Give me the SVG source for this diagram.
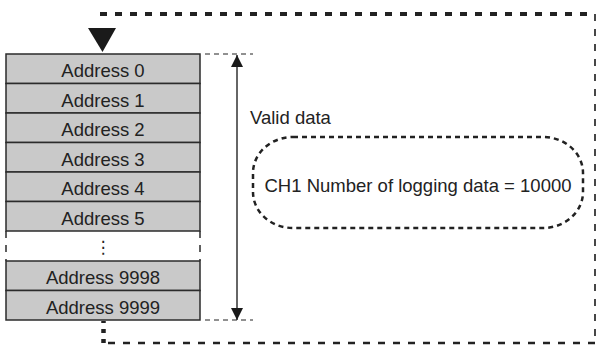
<svg xmlns="http://www.w3.org/2000/svg" width="596" height="347" viewBox="0 0 596 347">
<defs>
<style>
.cell{fill:#c9c9c9;stroke:#2b2b2b;stroke-width:1.5}
.lbl{font-family:"Liberation Sans",Arial,sans-serif;font-size:18.5px;fill:#222;text-anchor:middle}
.guide{stroke:#222;stroke-width:1;stroke-dasharray:5 4;fill:none}
</style>
<marker id="ah" viewBox="0 0 12 12" refX="12" refY="6" markerWidth="12" markerHeight="12" markerUnits="userSpaceOnUse" orient="auto">
<path d="M0,0 L12,6 L0,12 Z" fill="#1a1a1a"/>
</marker>
</defs>
<rect width="596" height="347" fill="#fff"/>
<g id="connectors">
<path d="M100,14 H594" stroke="#222" stroke-width="4" stroke-dasharray="7 8" fill="none"/>
<path d="M595,14 V343" stroke="#333" stroke-width="1.8" stroke-dasharray="7 8" fill="none"/>
<path d="M595,343 H102" stroke="#222" stroke-width="2.6" stroke-dasharray="7 8" fill="none"/>
<path d="M103.5,343 V321" stroke="#222" stroke-width="4.5" stroke-dasharray="4 6" fill="none"/>
<polygon points="88,28 116,28 102.5,52" fill="#1a1a1a"/>
<path class="guide" d="M205,54 H253"/>
<path class="guide" d="M205,320 H253"/>
<path d="M237,187 V55" stroke="#333" stroke-width="1.5" marker-end="url(#ah)"/>
<path d="M237,187 V320" stroke="#333" stroke-width="1.5" marker-end="url(#ah)"/>
</g>
<g id="addr0"><rect class="cell" x="6" y="54" width="194" height="29.5"/><text class="lbl" x="103" y="77">Address 0</text></g>
<g id="addr1"><rect class="cell" x="6" y="83.5" width="194" height="29.5"/><text class="lbl" x="103" y="106.5">Address 1</text></g>
<g id="addr2"><rect class="cell" x="6" y="113" width="194" height="29.5"/><text class="lbl" x="103" y="136">Address 2</text></g>
<g id="addr3"><rect class="cell" x="6" y="142.5" width="194" height="29.5"/><text class="lbl" x="103" y="165.5">Address 3</text></g>
<g id="addr4"><rect class="cell" x="6" y="172" width="194" height="29.5"/><text class="lbl" x="103" y="195">Address 4</text></g>
<g id="addr5"><rect class="cell" x="6" y="201.5" width="194" height="29.5"/><text class="lbl" x="103" y="224.5">Address 5</text></g>
<g id="gap">
<path d="M6,231 V261 M200,231 V261" stroke="#2b2b2b" stroke-width="1.5" stroke-dasharray="7 7" fill="none"/>
<text class="lbl" x="103" y="253" style="font-family:'DejaVu Sans',sans-serif;font-size:17px">⋮</text>
</g>
<g id="addr9998"><rect class="cell" x="6" y="261" width="194" height="29.5"/><text class="lbl" x="103" y="284">Address 9998</text></g>
<g id="addr9999"><rect class="cell" x="6" y="290.5" width="194" height="29.5"/><text class="lbl" x="103" y="313.5">Address 9999</text></g>
<g id="valid"><text class="lbl" x="250" y="124" style="text-anchor:start">Valid data</text></g>
<g id="count">
<rect x="253" y="137" width="330" height="91" rx="40" ry="36" fill="none" stroke="#222" stroke-width="2.5" stroke-dasharray="5 4"/>
<text class="lbl" x="418" y="192">CH1 Number of logging data = 10000</text>
</g>
</svg>
